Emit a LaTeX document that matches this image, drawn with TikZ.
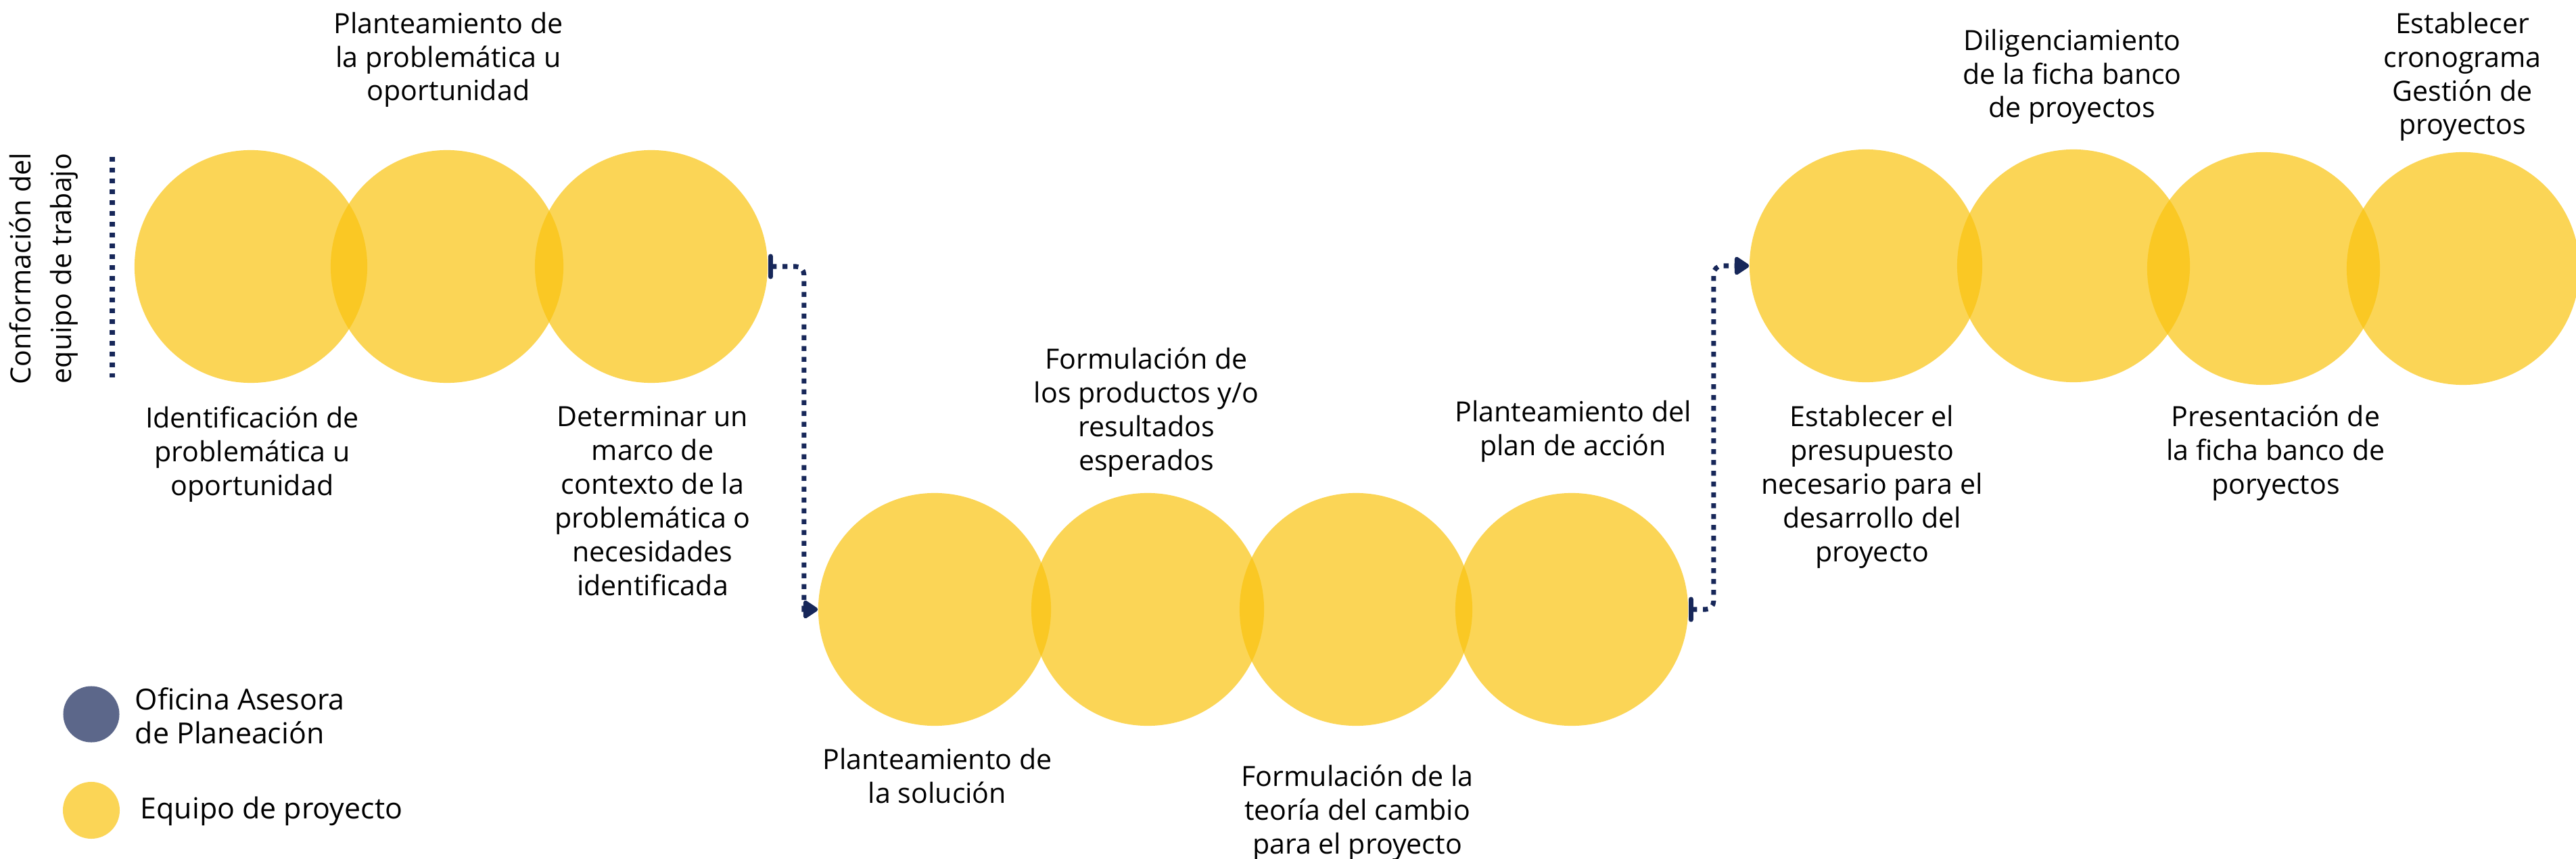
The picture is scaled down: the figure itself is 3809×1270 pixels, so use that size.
\documentclass[tikz,border=0pt]{standalone}
\usepackage{fontspec}
\setmainfont{Open Sans}
\usetikzlibrary{arrows.meta}

\definecolor{amarillo}{RGB}{249,195,14}
\definecolor{azul}{RGB}{23,39,89}

\tikzset{
  paso/.style={circle,fill=amarillo,fill opacity=0.7,minimum size=3.44cm,inner sep=0pt},
  etiqueta/.style={align=center,anchor=base,inner sep=0pt,font=\fontsize{11.7}{14.2}\selectfont},
  leyenda/.style={align=left,anchor=base west,inner sep=0pt,font=\fontsize{12.2}{14.2}\selectfont},
  punteado/.style={draw=azul,line width=2pt,dash pattern=on 2.1pt off 2.45pt},
  conector/.style={punteado,rounded corners=0.12cm,
    arrows={Bar[width=0.3cm,round]-Triangle[width=0.3cm,length=0.24cm,round]}},
}

\begin{document}
\begin{tikzpicture}[x=0.01cm,y=-0.01cm]
  \path[use as bounding box] (0,0) rectangle (3809,1270);

  % equipo de trabajo
  \node[rotate=90,align=center,inner sep=0pt,font=\fontsize{11.7}{17}\selectfont]
    (equipo) at (65,397) {Conformación del\\equipo de trabajo};
  \coordinate (lineasup) at (166,232);
  \coordinate (lineainf) at (166,558);
  \draw[punteado] (lineasup) -- (lineainf);

  % fila 1
  \node[paso] (a1) at (371,394) {};
  \node[paso] (a2) at (661,394) {};
  \node[paso] (a3) at (963,394) {};

  % fila 2
  \node[paso] (b1) at (1382,901) {};
  \node[paso] (b2) at (1697,901) {};
  \node[paso] (b3) at (2005,901) {};
  \node[paso] (b4) at (2324,901) {};

  % fila 3
  \node[paso] (c1) at (2759,393) {};
  \node[paso] (c2) at (3066,393) {};
  \node[paso] (c3) at (3347,397) {};
  \node[paso] (c4) at (3642,397) {};

  % textos (base = ultima linea)
  \node[etiqueta] (ta1) at (373,732) {Identificación de\\problemática u\\oportunidad};
  \node[etiqueta] (ta2) at (663,149) {Planteamiento de\\la problemática u\\oportunidad};
  \node[etiqueta] (ta3) at (965,880) {Determinar un\\marco de\\contexto de la\\problemática o\\necesidades\\identificada};
  \node[etiqueta] (tb1) at (1386,1187) {Planteamiento de\\la solución};
  \node[etiqueta] (tb2) at (1695,695) {Formulación de\\los productos y/o\\resultados\\esperados};
  \node[etiqueta] (tb3) at (2007,1262) {Formulación de la\\teoría del cambio\\para el proyecto};
  \node[etiqueta] (tb4) at (2326,673) {Planteamiento del\\plan de acción};
  \node[etiqueta] (tc1) at (2768,830) {Establecer el\\presupuesto\\necesario para el\\desarrollo del\\proyecto};
  \node[etiqueta] (tc2) at (3064,174) {Diligenciamiento\\de la ficha banco\\de proyectos};
  \node[etiqueta] (tc3) at (3365,730) {Presentación de\\la ficha banco de\\poryectos};
  \node[etiqueta] (tc4) at (3641,199) {Establecer\\cronograma\\Gestión de\\proyectos};

  % conectores
  \draw[conector] (a3.east) -- ++(53,0) -- ++(0,60) [sharp corners] |- (b1.west);
  \draw[conector] (b4.east) -- ++(37,0) |- (c1.west);

  % leyenda
  \node[circle,fill=azul,fill opacity=0.7,minimum size=0.83cm,inner sep=0pt] (ley1) at (135,1056) {};
  \node[circle,fill=amarillo,fill opacity=0.7,minimum size=0.84cm,inner sep=0pt] (ley2) at (135,1198) {};
  \node[leyenda] (tley1) at (199,1099) {Oficina Asesora\\de Planeación};
  \node[leyenda] (tley2) at (207,1210) {Equipo de proyecto};
\end{tikzpicture}
\end{document}
